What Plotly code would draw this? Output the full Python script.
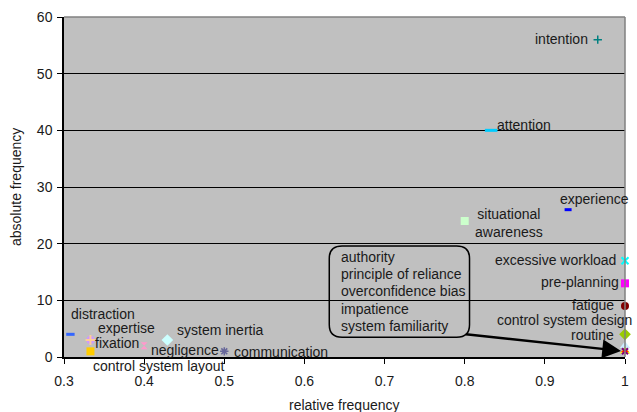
import plotly.graph_objects as go

# Human-factor categories: relative vs. absolute frequency
factors = [
    "intention", "attention", "experience", "situational awareness",
    "excessive workload", "pre-planning", "fatigue", "routine",
    "control system design", "authority", "principle of reliance",
    "overconfidence bias", "impatience", "system familiarity",
    "distraction", "expertise", "fixation", "control system layout",
    "negligence", "system inertia", "communication",
]
relative_frequency = [
    0.966, 0.833, 0.929, 0.8,
    1.0, 1.0, 1.0, 1.0,
    1.0, 1.0, 1.0,
    1.0, 1.0, 1.0,
    0.308, 0.333, 0.333, 0.333,
    0.4, 0.429, 0.5,
]
absolute_frequency = [
    56, 40, 26, 24,
    17, 13, 9, 4,
    2, 1, 1,
    1, 1, 1,
    4, 3, 3, 1,
    2, 3, 1,
]
# categories sharing the point that the callout box points at
callout_factors = ["authority", "principle of reliance", "overconfidence bias",
                   "impatience", "system familiarity"]

# marker style per category: symbol, colour, size, outline width
styles = {
    "intention": ("cross-thin", "#008080", 6, 1.5),
    "attention": ("line-ew", "#00CCFF", 9, 3),
    "experience": ("line-ew", "#0000FF", 5, 3),
    "situational awareness": ("square", "#CCFFCC", 8, 0),
    "excessive workload": ("x-thin", "#00FFFF", 7, 2),
    "pre-planning": ("square", "#FF00FF", 8, 0),
    "fatigue": ("circle", "#800000", 8, 0),
    "routine": ("diamond", "#99CC00", 9, 0),
    "control system design": ("triangle-up", "#CCECFF", 9, 0),
    "authority": ("circle", "#993366", 6, 0),
    "principle of reliance": ("square", "#FF6600", 5, 0),
    "overconfidence bias": ("triangle-up", "#FFFF00", 9, 0),
    "impatience": ("x-thin", "#800080", 6, 2),
    "system familiarity": ("line-ew", "#FF0000", 5, 1),
    "distraction": ("line-ew", "#3366FF", 6, 3),
    "expertise": ("circle", "#CC99FF", 8, 0),
    "fixation": ("cross-thin", "#FFCC99", 7, 2),
    "control system layout": ("square", "#FFCC00", 8, 0),
    "negligence": ("hourglass", "#FF99CC", 7, 0),
    "system inertia": ("diamond", "#CCFFFF", 9, 0),
    "communication": ("asterisk-open", "#666699", 7, 1.5),
}

# label text and offset from its point: xanchor, xshift, yshift (px)
labels = {
    "intention": ("intention", "right", -9, 1),
    "attention": ("attention", "left", 5, 5),
    "experience": ("experience", "center", 26, 11),
    "situational awareness": ("situational<br>awareness", "center", 44, -2),
    "excessive workload": ("excessive workload", "right", -8, 1),
    "pre-planning": ("pre-planning", "right", -5, 1),
    "fatigue": ("fatigue", "right", -10, 1),
    "routine": ("routine", "right", -10, -1),
    "control system design": ("control system design", "right", 8, 26),
    "distraction": ("distraction", "left", 0, 20),
    "expertise": ("expertise", "left", 7, 12),
    "fixation": ("fixation", "left", 4, -3),
    "control system layout": ("control system layout", "left", 2, -15),
    "negligence": ("negligence", "left", 6, -4),
    "system inertia": ("system inertia", "left", 9, 10),
    "communication": ("communication", "left", 9, -1),
}

FONT = "Liberation Sans, Arial, sans-serif"
FS = 14
TXT = "#1a1a1a"

fig = go.Figure()
for name, xv, yv in zip(factors, relative_frequency, absolute_frequency):
    sym, col, size, lw = styles[name]
    fig.add_trace(go.Scatter(
        x=[xv], y=[yv], mode="markers", name=name, cliponaxis=False,
        marker=dict(symbol=sym, color=col, size=size,
                    line=dict(color=col, width=lw)),
    ))

annotations = []
for name, xv, yv in zip(factors, relative_frequency, absolute_frequency):
    if name not in labels:
        continue
    text, xa, dx, dy = labels[name]
    annotations.append(dict(
        x=xv, y=yv, text=text, showarrow=False, xanchor=xa,
        xshift=dx, yshift=dy, align="center", borderpad=0,
        font=dict(family=FONT, size=FS, color=TXT),
    ))

# callout box listing the categories at the shared point
idx = factors.index(callout_factors[0])
cx, cy = relative_frequency[idx], absolute_frequency[idx]
bx0, bx1, by0, by1 = 0.631, 0.806, 3.5, 19.6
rx, ry = 0.016, 2.2
path = (f"M {bx0+rx},{by1} L {bx1-rx},{by1} Q {bx1},{by1} {bx1},{by1-ry} "
        f"L {bx1},{by0+ry} Q {bx1},{by0} {bx1-rx},{by0} "
        f"L {bx0+rx},{by0} Q {bx0},{by0} {bx0},{by0+ry} "
        f"L {bx0},{by1-ry} Q {bx0},{by1} {bx0+rx},{by1} Z")
for i, name in enumerate(callout_factors):
    annotations.append(dict(
        x=bx0, y=by1, xref="x", yref="y", text=name, showarrow=False,
        xanchor="left", yanchor="middle", xshift=11, yshift=-11 - 17.2 * i,
        borderpad=0, font=dict(family=FONT, size=FS, color=TXT),
    ))
annotations.append(dict(
    x=cx, y=cy, ax=0.7995, ay=4.05, xref="x", yref="y", axref="x", ayref="y",
    text="", showarrow=True, arrowhead=2, arrowsize=1.5, arrowwidth=2.5,
    arrowcolor="black", standoff=4,
))

# axis titles
annotations.append(dict(
    x=0.5, y=0, xref="paper", yref="paper", yshift=-48, showarrow=False,
    xanchor="center", yanchor="middle",
    text="relative frequency", font=dict(family=FONT, size=FS, color=TXT),
))
annotations.append(dict(
    x=0, y=0.5, xref="paper", yref="paper", xshift=-48, showarrow=False,
    xanchor="center", yanchor="middle",
    textangle=-90, text="absolute frequency",
    font=dict(family=FONT, size=FS, color=TXT),
))

fig.update_layout(
    width=637, height=412,
    margin=dict(l=64, r=8, t=17, b=55),
    paper_bgcolor="white", plot_bgcolor="#C0C0C0",
    showlegend=False,
    font=dict(family=FONT, size=FS, color=TXT),
    xaxis=dict(range=[0.3, 1.0], dtick=0.1, tick0=0.3, showgrid=False,
               zeroline=False, showline=True, linecolor="black", linewidth=1.5,
               ticks="outside", ticklen=5, tickcolor="black", tickwidth=1,
               ticklabelstandoff=5,
               tickfont=dict(family=FONT, size=FS, color=TXT)),
    yaxis=dict(range=[0, 60], dtick=10, showgrid=True, gridcolor="black",
               gridwidth=1, zeroline=False, showline=True, linecolor="black",
               linewidth=1.5, ticks="outside", ticklen=5, tickcolor="black",
               tickwidth=1, ticklabelstandoff=2,
               tickfont=dict(family=FONT, size=FS, color=TXT)),
    shapes=[
        dict(type="path", path=path, xref="x", yref="y",
             line=dict(color="black", width=1.5), layer="above"),
        dict(type="line", xref="paper", yref="paper", x0=0, x1=1, y0=1, y1=1,
             line=dict(color="#808080", width=1.5)),
        dict(type="line", xref="paper", yref="paper", x0=1, x1=1, y0=0, y1=1,
             line=dict(color="#808080", width=1.5)),
    ],
    annotations=annotations,
)

fig.write_html("out.html")
